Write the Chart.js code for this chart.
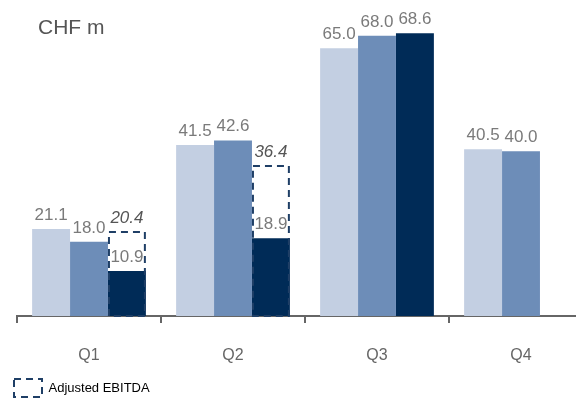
<!DOCTYPE html>
<html>
<head>
<meta charset="utf-8">
<script src="https://cdn.jsdelivr.net/npm/chart.js@4"></script>
<style>
  html, body { margin: 0; padding: 0; background: #fff; overflow: hidden; }
  #wrap { position: relative; width: 610px; height: 407px; }
</style>
</head>
<body>
<div id="wrap"><canvas id="chart" width="610" height="407"></canvas></div>
<script>
const quarters = ['Q1', 'Q2', 'Q3', 'Q4'];
const serieA = [21.1, 41.5, 65.0, 40.5];
const serieB = [18.0, 42.6, 68.0, 40.0];
const serieC = [10.9, 18.9, 68.6, null];
const adjusted = [20.4, 36.4, null, null];

const valueLabels = {
    id: 'valueLabels',
    afterDatasetsDraw(chart) {
        const ctx = chart.ctx;
        const y = chart.scales.y;
        ctx.save();
        ctx.textAlign = 'center';
        ctx.textBaseline = 'alphabetic';
        ctx.font = '17px "Liberation Sans", Arial, sans-serif';
        ctx.fillStyle = '#7a7a7a';
        chart.data.datasets.forEach((ds, i) => {
            chart.getDatasetMeta(i).data.forEach((bar, j) => {
                if (ds.data[j] == null) return;
                ctx.fillText(ds.data[j].toFixed(1), bar.x, bar.y - 9);
            });
        });
        // adjusted EBITDA boxes over the third series
        const meta = chart.getDatasetMeta(2);
        adjusted.forEach((v, j) => {
            if (v == null) return;
            const bar = meta.data[j];
            const top = y.getPixelForValue(v);
            const base = y.getPixelForValue(0);
            ctx.strokeStyle = '#1f3f66';
            ctx.lineWidth = 2;
            ctx.setLineDash([7, 5]);
            ctx.strokeRect(bar.x - bar.width / 2 + 1, top, bar.width - 2, base - top);
            ctx.setLineDash([]);
            ctx.font = 'italic 17px "Liberation Sans", Arial, sans-serif';
            ctx.fillStyle = '#555';
            ctx.fillText(v.toFixed(1), bar.x, top - 9);
        });
        ctx.font = '21px "Liberation Sans", Arial, sans-serif';
        ctx.fillStyle = '#555';
        ctx.textAlign = 'left';
        ctx.fillText('CHF m', 38, 34);
        ctx.restore();
    }
};

new Chart(document.getElementById('chart'), {
    type: 'bar',
    data: {
        labels: quarters,
        datasets: [
            { label: 'A', data: serieA, backgroundColor: '#c3cfe2' },
            { label: 'B', data: serieB, backgroundColor: '#6d8db8' },
            { label: 'C', data: serieC, backgroundColor: '#002b57' }
        ]
    },
    options: {
        responsive: false,
        animation: false,
        devicePixelRatio: 1,
        layout: { padding: { left: 12, right: 17, top: 7, bottom: 0 } },
        datasets: { bar: { barPercentage: 1, categoryPercentage: 0.79 } },
        scales: {
            x: {
                grid: { display: true, drawOnChartArea: false, drawTicks: true, tickLength: 7, color: '#666', lineWidth: 2, offset: true },
                border: { display: true, color: '#666', width: 2 },
                ticks: { color: '#666', font: { size: 16, family: '"Liberation Sans", Arial, sans-serif' }, padding: 23 },
                afterFit(s) { s.height = 61; }
            },
            y: {
                display: true,
                min: 0,
                max: 75,
                grid: { display: false },
                border: { display: false },
                ticks: { display: false },
                afterFit(s) { s.width = 5; }
            }
        },
        plugins: {
            tooltip: { enabled: false },
            legend: {
                position: 'bottom',
                align: 'start',
                labels: {
                    boxWidth: 28,
                    boxHeight: 18,
                    padding: 2,
                    color: '#555',
                    font: { size: 13, family: '"Liberation Sans", Arial, sans-serif' },
                    generateLabels: () => [{
                        text: 'Adjusted EBITDA',
                        fillStyle: 'rgba(0,0,0,0)',
                        strokeStyle: '#1f3f66',
                        lineWidth: 2,
                        lineDash: [7, 5],
                        hidden: false
                    }]
                }
            }
        }
    },
    plugins: [valueLabels]
});
</script>
</body>
</html>
